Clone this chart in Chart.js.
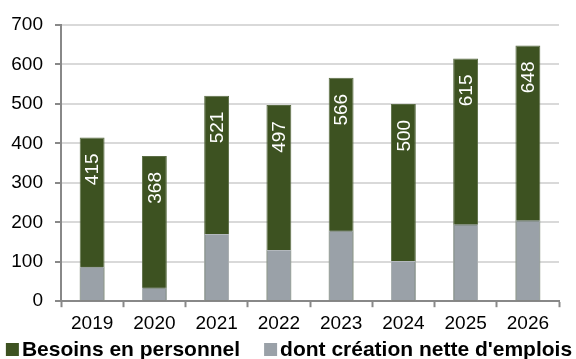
<!DOCTYPE html>
<html>
<head>
<meta charset="utf-8">
<script src="https://cdn.jsdelivr.net/npm/chart.js@4/dist/chart.umd.min.js"></script>
<style>
  html, body { margin: 0; padding: 0; background: #fff; }
  #wrap { width: 576px; height: 359px; }
</style>
</head>
<body>
<div id="wrap"><canvas id="chart"></canvas></div>
<script>
// data
const years = ['2019', '2020', '2021', '2022', '2023', '2024', '2025', '2026'];
const besoins = [415, 368, 521, 497, 566, 500, 615, 648];
const creation = [87, 35, 170, 130, 179, 102, 195, 205];
const yTicks = [0, 100, 200, 300, 400, 500, 600, 700];

const green = '#3d5221';
const grey = '#9aa1a8';
const fontFamily = '"Liberation Sans", Arial, sans-serif';

// white rotated totals inside the green bars
const barLabels = {
  id: 'barLabels',
  afterDatasetsDraw(chart) {
    const ctx = chart.ctx;
    const meta = chart.getDatasetMeta(0);
    ctx.save();
    ctx.font = '19px ' + fontFamily;
    ctx.fillStyle = '#fff';
    ctx.textAlign = 'right';
    ctx.textBaseline = 'middle';
    meta.data.forEach((bar, i) => {
      ctx.save();
      ctx.translate(bar.x, bar.y + 16);
      ctx.rotate(-Math.PI / 2);
      ctx.fillText(String(besoins[i]), 0, 1);
      ctx.restore();
    });
    ctx.restore();
  }
};

// legend drawn by hand: the built-in one keeps a half-font gap after the box
const bottomLegend = {
  id: 'bottomLegend',
  afterDraw(chart) {
    const ctx = chart.ctx;
    const sets = chart.data.datasets;
    ctx.save();
    ctx.font = 'bold 21px ' + fontFamily;
    ctx.textBaseline = 'alphabetic';
    ctx.textAlign = 'left';
    const widths = sets.map(ds => ctx.measureText(ds.label).width);
    const total = widths.reduce((a, w) => a + 13 + 3 + w, 0) + 24 * (sets.length - 1);
    let x = (chart.width - total) / 2 + 1;
    const baseY = 355.5;
    sets.forEach((ds, i) => {
      ctx.fillStyle = ds.backgroundColor;
      ctx.fillRect(x, 343, 13, 13);
      ctx.fillStyle = '#000';
      ctx.fillText(ds.label, x + 16, baseY);
      x += 16 + widths[i] + 24;
    });
    ctx.restore();
  }
};

Chart.defaults.font.family = fontFamily;
Chart.defaults.font.size = 19;
Chart.defaults.color = '#000';

new Chart(document.getElementById('chart').getContext('2d'), {
  type: 'bar',
  data: {
    labels: years,
    datasets: [{
      label: 'Besoins en personnel',
      data: besoins,
      backgroundColor: green,
      borderColor: '#5b6d45',
      borderWidth: 1,
      grouped: false,
      order: 2,
      barPercentage: 0.5,
      categoryPercentage: 0.8
    }, {
      label: "dont création nette d'emplois",
      data: creation,
      backgroundColor: grey,
      borderColor: '#b3b8bd',
      borderWidth: 1,
      grouped: false,
      order: 1,
      barPercentage: 0.5,
      categoryPercentage: 0.8
    }]
  },
  options: {
    responsive: true,
    maintainAspectRatio: false,
    animation: false,
    layout: { padding: { top: 25, right: 0, left: 0, bottom: 19 } },
    scales: {
      x: {
        grid: {
          display: true,
          drawOnChartArea: false,
          tickLength: 6,
          tickColor: '#888',
          tickWidth: 2
        },
        border: { color: '#888', width: 2 },
        ticks: { padding: 5 }
      },
      y: {
        min: 0,
        max: 700,
        afterBuildTicks(axis) {
          axis.ticks = yTicks.map(v => ({ value: v }));
        },
        afterFit(axis) { axis.width = 61; },
        grid: {
          color: '#d9d9d9',
          lineWidth: 2,
          tickLength: 6,
          tickColor: '#888'
        },
        border: { color: '#888', width: 2 },
        ticks: { padding: 12 }
      },
      // empty strip on the right, only to leave the same margin as the original
      yRight: {
        position: 'right',
        grid: { display: false },
        border: { display: false },
        ticks: { display: false },
        afterFit(axis) { axis.width = 17; }
      }
    },
    plugins: {
      legend: { display: false },
      tooltip: { enabled: false }
    }
  },
  plugins: [barLabels, bottomLegend]
});
</script>
</body>
</html>
